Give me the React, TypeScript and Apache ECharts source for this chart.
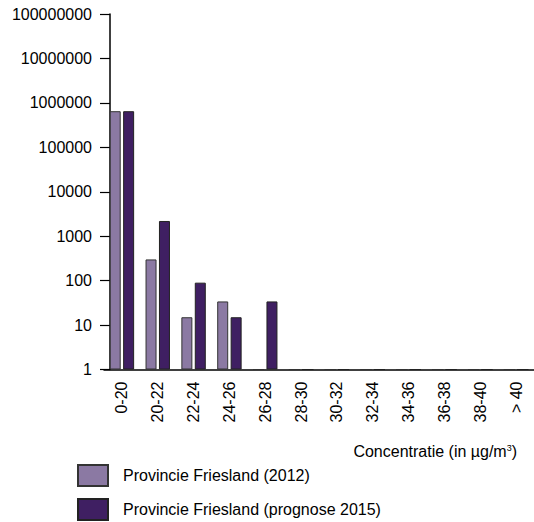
import React, { useEffect, useRef } from "react";
import * as echarts from "echarts";

const categories = ["0-20", "20-22", "22-24", "24-26", "26-28", "28-30", "30-32", "32-34", "34-36", "36-38", "38-40", "> 40"];
const series2012 = [650000, 300, 15, 34, 1, 1, 1, 1, 1, 1, 1, 1];
const series2015 = [650000, 2200, 90, 15, 34, 1, 1, 1, 1, 1, 1, 1];
const seriesNames = ["Provincie Friesland (2012)", "Provincie Friesland (prognose 2015)"];
const xAxisTitle = "Concentratie (in µg/m";

const FONT = "'Liberation Sans', Arial, sans-serif";

export default function App() {
  const ref = useRef<HTMLDivElement>(null);
  useEffect(() => {
    if (!ref.current) return;
    const chart = echarts.init(ref.current, null, { renderer: "svg" });
    const legendBase = {
      orient: "horizontal",
      left: 77,
      padding: 0,
      itemWidth: 30,
      itemHeight: 21,
      icon: "rect",
      textStyle: { fontSize: 16, color: "#000", fontFamily: FONT, padding: [0, 0, 0, 10] },
    };
    chart.setOption({
      animation: false,
      backgroundColor: "#ffffff",
      textStyle: { fontFamily: FONT },
      grid: { left: 104, top: 14, bottom: 152.5, right: -16, containLabel: false },
      xAxis: {
        type: "category",
        data: categories,
        axisLine: { show: true, lineStyle: { color: "#000", width: 1.5 } },
        axisTick: { show: false },
        axisLabel: { rotate: 90, margin: 12, fontSize: 16, color: "#000", fontFamily: FONT, interval: 0 },
      },
      yAxis: {
        type: "log",
        logBase: 10,
        min: 1,
        max: 100000000,
        offset: -6,
        splitLine: { show: false },
        axisLine: { show: true, lineStyle: { color: "#000", width: 1.5 } },
        axisTick: { show: true, length: 10, lineStyle: { color: "#000", width: 1.2 } },
        axisLabel: {
          margin: 18,
          fontSize: 16,
          color: "#000",
          fontFamily: FONT,
          formatter: (v: number) => String(Math.round(v)),
        },
      },
      legend: [
        { ...legendBase, top: 464, data: [seriesNames[0]] },
        { ...legendBase, top: 498, data: [seriesNames[1]] },
      ],
      graphic: [
        {
          type: "text",
          right: 17,
          top: 443,
          style: {
            text: xAxisTitle + "{sup|3}" + ")",
            fontSize: 16,
            fontFamily: FONT,
            fill: "#000",
            rich: { sup: { fontSize: 9, verticalAlign: "top", padding: [0, 0, 8, 0], fontFamily: FONT } },
          },
        },
      ],
      series: [
        {
          name: seriesNames[0],
          type: "bar",
          data: series2012,
          barWidth: 11,
          barGap: "22%",
          itemStyle: { color: "#8b79a3", borderColor: "#333", borderWidth: 1 },
        },
        {
          name: seriesNames[1],
          type: "bar",
          data: series2015,
          barWidth: 11,
          itemStyle: { color: "#3f1f62", borderColor: "#222", borderWidth: 1 },
        },
      ],
    });
    return () => chart.dispose();
  }, []);
  return <div ref={ref} style={{ width: 534, height: 522, position: "absolute", left: 0, top: 0 }} />;
}
